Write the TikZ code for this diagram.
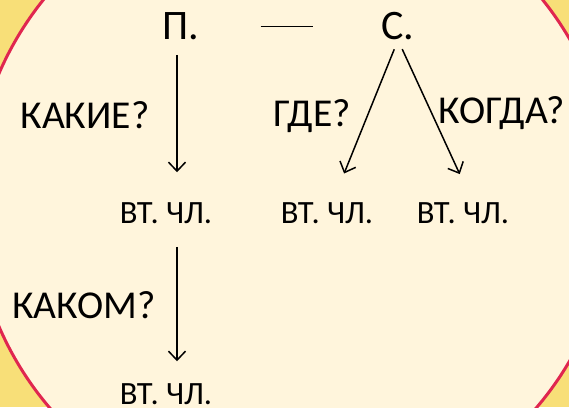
\documentclass[tikz,border=0pt]{standalone}
\usepackage{fontspec}
\setmainfont{Carlito}
\usetikzlibrary{arrows.meta}

\definecolor{bgyellow}{HTML}{F8DF78}
\definecolor{cream}{HTML}{FFF5DC}
\definecolor{rim}{HTML}{E0264F}

\tikzset{
  big/.style={inner sep=0pt, font=\fontsize{42}{42}\selectfont},
  ask/.style={inner sep=0pt, font=\fontsize{39.5}{40}\selectfont},
  member/.style={inner sep=0pt, font=\fontsize{32.5}{33}\selectfont},
  arr/.style={line width=1.5pt, -{Straight Barb[length=9pt,width=17pt,line width=1.5pt]}}
}

\begin{document}
\begin{tikzpicture}[x=1pt,y=-1pt]
\useasboundingbox (0,0) rectangle (569,407);
\clip (0,0) rectangle (569,407);

% background
\fill[bgyellow] (0,0) rectangle (569,407);
\draw[rim, line width=3pt, fill=cream] (293,200) circle[radius=320pt];

% subject and predicate
\node[big] (P) at (181,26) {П.};
\node[big] (S) at (398,26) {С.};
\draw[line width=0.8pt, shorten <=61pt, shorten >=68pt] (P.east) -- (S.west);

% questions
\node[ask] (kakie) at (85,115) {КАКИЕ?};
\node[ask] (gde) at (312,116) {ГДЕ?};
\node[ask] (kogda) at (502,113) {КОГДА?};
\node[ask] (kakom) at (84,305) {КАКОМ?};

% secondary members
\node[member] (vt1) at (166,213) {ВТ. ЧЛ.};
\node[member] (vt2) at (327,213) {ВТ. ЧЛ.};
\node[member] (vt3) at (463,213) {ВТ. ЧЛ.};
\node[member] (vt4) at (166,394) {ВТ. ЧЛ.};

% arrows
\draw[arr, shorten <=15pt, shorten >=30pt] (P.south -| 177,0) -- (vt1.north -| 177,0);
\draw[arr, shorten <=23pt, shorten >=22pt] (vt1.south -| 177,0) -- (vt4.north -| 177,0);
\draw[arr, shorten <=10pt, shorten >=31pt] (S.south) -- (vt2.63);
\draw[arr, shorten <=10pt, shorten >=31pt] (S.south) -- (vt3.48);
\end{tikzpicture}
\end{document}
